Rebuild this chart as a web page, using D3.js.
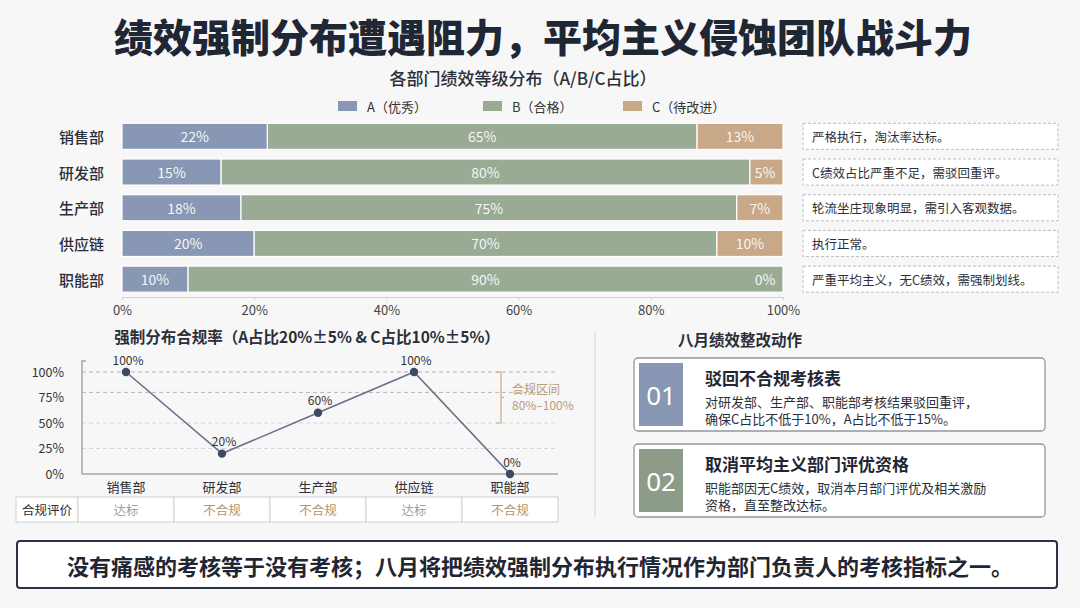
<!DOCTYPE html>
<html>
<head>
<meta charset="utf-8">
<script src="https://cdn.jsdelivr.net/npm/d3@7"></script>
<style>
  html, body { margin: 0; padding: 0; background: #f7f7f7; }
  svg { display: block; font-family: "Noto Sans CJK SC", "Noto Sans", sans-serif; }
</style>
</head>
<body>
<div id="chart"></div>
<script>
const W = 1080, H = 608;
const INK = '#1f2634';
const COLOR_A = '#8797b4';
const COLOR_B = '#99aa95';
const COLOR_C = '#c8a886';

const depts = ['销售部', '研发部', '生产部', '供应链', '职能部'];
const gradeA = [22, 15, 18, 20, 10];
const gradeB = [65, 80, 75, 70, 90];
const gradeC = [13, 5, 7, 10, 0];
const legendLabels = ['A（优秀）', 'B（合格）', 'C（待改进）'];
const notes = ['严格执行，淘汰率达标。', 'C绩效占比严重不足，需驳回重评。', '轮流坐庄现象明显，需引入客观数据。', '执行正常。', '严重平均主义，无C绩效，需强制划线。'];
const pctTicks = [0, 20, 40, 60, 80, 100];

const compliance = [100, 20, 60, 100, 0];
const verdicts = ['达标', '不合规', '不合规', '达标', '不合规'];
const rateTicks = [0, 25, 50, 75, 100];
const zoneLines = [100, 80];
const gridLines = [50, 25];
const zoneRange = [100, 50];

const actionNo = ['01', '02'];
const actionTitles = ['驳回不合规考核表', '取消平均主义部门评优资格'];
const actionLines = [
  ['对研发部、生产部、职能部考核结果驳回重评，', '确保C占比不低于10%，A占比不低于15%。'],
  ['职能部因无C绩效，取消本月部门评优及相关激励', '资格，直至整改达标。']
];

let svg = d3.select('#chart').append('svg').attr('width', W).attr('height', H);
svg.append('rect').attr('width', W).attr('height', H).attr('fill', '#f7f7f7');

// title
svg.append('text').attr('x', 543).attr('y', 35).attr('text-anchor', 'middle')
  .attr('dominant-baseline', 'central').attr('font-size', 39).attr('font-weight', 800)
  .attr('fill', INK).text('绩效强制分布遭遇阻力，平均主义侵蚀团队战斗力');

// ---------- stacked bars ----------
svg.append('text').attr('x', 523).attr('y', 77).attr('text-anchor', 'middle')
  .attr('dominant-baseline', 'central').attr('font-size', 17).attr('font-weight', 500)
  .attr('fill', '#2a2f3a').text('各部门绩效等级分布（A/B/C占比）');

let legendX = [338, 483, 623];
let legendColors = [COLOR_A, COLOR_B, COLOR_C];
let legend = svg.append('g').selectAll('g').data(legendLabels).join('g')
  .attr('transform', (d, i) => `translate(${legendX[i]},106)`);
legend.append('rect').attr('y', -5).attr('width', 19).attr('height', 10).attr('fill', (d, i) => legendColors[i]);
legend.append('text').attr('x', 29).attr('dominant-baseline', 'central').attr('font-size', 13)
  .attr('fill', '#333').text(d => d);

let rows = depts.map((d, i) => ({ dept: d, A: gradeA[i], B: gradeB[i], C: gradeC[i] }));
let stacked = d3.stack().keys(['A', 'B', 'C'])(rows);

let x = d3.scaleLinear().domain([0, 100]).range([122, 783]);
let y = d3.scaleBand().domain(depts).range([118.5, 297]).paddingInner(0.27).paddingOuter(0.135);
let color = d3.scaleOrdinal().domain(['A', 'B', 'C']).range([COLOR_A, COLOR_B, COLOR_C]);

let layers = svg.append('g').selectAll('g').data(stacked).join('g').attr('fill', d => color(d.key));
layers.selectAll('rect').data(d => d).join('rect')
  .attr('x', d => x(d[0])).attr('width', d => x(d[1]) - x(d[0]))
  .attr('y', d => y(d.data.dept)).attr('height', y.bandwidth())
  .attr('stroke', '#fff').attr('stroke-width', 1.2);

layers.selectAll('text').data(d => d.map(s => ({ s: s, key: d.key }))).join('text')
  .attr('x', d => {
    let c = (x(d.s[0]) + x(d.s[1])) / 2;
    return d.key === 'C' ? Math.min(c, x(100) - 18) : c;
  })
  .attr('y', d => y(d.s.data.dept) + y.bandwidth() / 2)
  .attr('text-anchor', 'middle').attr('dominant-baseline', 'central')
  .attr('font-size', 14).attr('fill', '#f6f6f6')
  .text(d => d.s.data[d.key] + '%');

svg.append('g').selectAll('text').data(depts).join('text')
  .attr('x', 104).attr('y', d => y(d) + y.bandwidth() / 2)
  .attr('text-anchor', 'end').attr('dominant-baseline', 'central')
  .attr('font-size', 15).attr('font-weight', 500).attr('fill', '#2a2f3a').text(d => d);

let xAxis = d3.axisBottom(x).tickValues(pctTicks).tickFormat(d => d + '%').tickSize(3);
let gx = svg.append('g').attr('transform', 'translate(0,297)').call(xAxis);
gx.select('.domain').attr('stroke', '#cfcfcf');
gx.selectAll('.tick line').attr('stroke', '#cfcfcf');
gx.selectAll('.tick text').attr('font-size', 13).attr('fill', '#444').attr('dy', '0.95em')
  .attr('font-family', '"Noto Sans CJK SC", sans-serif');

let noteG = svg.append('g').selectAll('g').data(notes).join('g')
  .attr('transform', (d, i) => `translate(803,${y(depts[i])})`);
noteG.append('rect').attr('width', 255).attr('height', y.bandwidth())
  .attr('fill', '#fff').attr('stroke', '#bdbdbd').attr('stroke-dasharray', '3,2');
noteG.append('text').attr('x', 9).attr('y', y.bandwidth() / 2).attr('dominant-baseline', 'central')
  .attr('font-size', 12.5).attr('fill', '#2a2f3a').text(d => d);

// ---------- compliance line ----------
svg.append('text').attr('x', 307).attr('y', 336).attr('text-anchor', 'middle')
  .attr('dominant-baseline', 'central').attr('font-size', 15.5).attr('font-weight', 700)
  .attr('fill', '#2a2f3a').text('强制分布合规率（A占比20%±5% & C占比10%±5%）');

let xp = d3.scaleBand().domain(depts).range([78, 558]);
let cx = d => xp(d) + xp.bandwidth() / 2;
let yr = d3.scaleLinear().domain([0, 100]).range([474, 372]);

svg.append('g').selectAll('line').data(zoneLines.concat(gridLines)).join('line')
  .attr('x1', 82).attr('x2', 558).attr('y1', d => yr(d)).attr('y2', d => yr(d))
  .attr('stroke', d => zoneLines.includes(d) ? '#b5b5b5' : '#d6d6d6').attr('stroke-dasharray', '4,3');

let yAxis = d3.axisLeft(yr).tickValues(rateTicks).tickFormat(d => d + '%').tickSize(0).tickPadding(18);
let gy = svg.append('g').attr('transform', 'translate(82,0)').call(yAxis);
gy.select('.domain').remove();
gy.selectAll('.tick text').attr('font-size', 12.5).attr('fill', '#333')
  .attr('font-family', '"Noto Sans CJK SC", sans-serif');
svg.append('path').attr('d', `M86,361 H82 V${yr(0)} H558`).attr('fill', 'none')
  .attr('stroke', '#a8a8a8').attr('stroke-width', 1.5);

// compliance zone bracket
let zb = svg.append('g').attr('stroke', '#c8a886').attr('fill', 'none').attr('stroke-width', 1.2);
zb.append('path').attr('d', `M496,${yr(zoneRange[0])} h5 V${yr(zoneRange[1])} h-5 M501,${(yr(zoneRange[0]) + yr(zoneRange[1])) / 2} h3`);
svg.append('text').attr('x', 512).attr('y', 388).attr('dominant-baseline', 'central')
  .attr('font-size', 12).attr('fill', '#b99c7c').text('合规区间');
svg.append('text').attr('x', 512).attr('y', 404).attr('dominant-baseline', 'central')
  .attr('font-size', 12).attr('fill', '#b99c7c').text('80%–100%');

let line = d3.line().x((d, i) => cx(depts[i])).y(d => yr(d));
svg.append('path').datum(compliance).attr('d', line).attr('fill', 'none')
  .attr('stroke', '#69718a').attr('stroke-width', 1.6);
svg.append('g').selectAll('circle').data(compliance).join('circle')
  .attr('cx', (d, i) => cx(depts[i])).attr('cy', d => yr(d)).attr('r', 4.2).attr('fill', '#3d4963');
svg.append('g').selectAll('text').data(compliance).join('text')
  .attr('x', (d, i) => cx(depts[i]) + 2).attr('y', d => yr(d) - 13)
  .attr('text-anchor', 'middle').attr('dominant-baseline', 'central')
  .attr('font-size', 12).attr('fill', '#333').text(d => d + '%');
svg.append('g').selectAll('text').data(depts).join('text')
  .attr('x', d => cx(d)).attr('y', 486).attr('text-anchor', 'middle').attr('dominant-baseline', 'central')
  .attr('font-size', 13).attr('fill', '#2a2f3a').text(d => d);

// verdict table
let table = svg.append('g').attr('transform', 'translate(0,497)');
table.append('rect').attr('x', 16).attr('width', 62).attr('height', 25)
  .attr('fill', '#fff').attr('stroke', '#cfcfcf');
table.append('text').attr('x', 47).attr('y', 12.5).attr('text-anchor', 'middle').attr('dominant-baseline', 'central')
  .attr('font-size', 12.5).attr('fill', '#2a2f3a').text('合规评价');
table.selectAll('rect.cell').data(depts).join('rect').attr('class', 'cell')
  .attr('x', d => xp(d)).attr('width', xp.bandwidth()).attr('height', 25)
  .attr('fill', '#fff').attr('stroke', '#cfcfcf');
table.selectAll('text.cell').data(verdicts).join('text').attr('class', 'cell')
  .attr('x', (d, i) => cx(depts[i])).attr('y', 12.5).attr('text-anchor', 'middle').attr('dominant-baseline', 'central')
  .attr('font-size', 12.5).attr('fill', d => d === '达标' ? '#a0a0a0' : '#b0946f').text(d => d);

// ---------- actions ----------
svg.append('line').attr('x1', 595).attr('x2', 595).attr('y1', 331).attr('y2', 518)
  .attr('stroke', '#dcdcdc').attr('stroke-width', 1.2);
svg.append('text').attr('x', 740).attr('y', 339).attr('text-anchor', 'middle')
  .attr('dominant-baseline', 'central').attr('font-size', 15.5).attr('font-weight', 700)
  .attr('fill', '#2a2f3a').text('八月绩效整改动作');

let cardColors = [COLOR_A, '#8d9c88'];
let cards = svg.append('g').selectAll('g').data(actionTitles).join('g')
  .attr('transform', (d, i) => `translate(634,${358 + i * 86})`);
cards.append('rect').attr('width', 411).attr('height', 73).attr('rx', 4)
  .attr('fill', '#fff').attr('stroke', '#9097a3').attr('stroke-width', 1.3);
cards.append('rect').attr('x', 5).attr('y', 5).attr('width', 44).attr('height', 63)
  .attr('fill', (d, i) => cardColors[i]);
cards.append('text').attr('x', 27).attr('y', 37).attr('text-anchor', 'middle').attr('dominant-baseline', 'central')
  .attr('font-size', 26).attr('fill', '#fff').attr('font-family', '"Noto Sans", sans-serif')
  .text((d, i) => actionNo[i]);
cards.append('text').attr('x', 71).attr('y', 19).attr('dominant-baseline', 'central')
  .attr('font-size', 17).attr('font-weight', 700).attr('fill', '#1f2634').text(d => d);
cards.each(function(d, i) {
  d3.select(this).selectAll('text.body').data(actionLines[i]).join('text').attr('class', 'body')
    .attr('x', 71).attr('y', (t, j) => 43 + j * 17).attr('dominant-baseline', 'central')
    .attr('font-size', 13).attr('fill', '#2a2f3a').text(t => t);
});

// ---------- footer ----------
svg.append('rect').attr('x', 17).attr('y', 541).attr('width', 1040).attr('height', 47).attr('rx', 3)
  .attr('fill', '#fff').attr('stroke', '#2b3343').attr('stroke-width', 2);
svg.append('text').attr('x', 540).attr('y', 565).attr('text-anchor', 'middle')
  .attr('dominant-baseline', 'central').attr('font-size', 22).attr('font-weight', 700)
  .attr('fill', INK).text('没有痛感的考核等于没有考核；八月将把绩效强制分布执行情况作为部门负责人的考核指标之一。');
</script>
</body>
</html>
